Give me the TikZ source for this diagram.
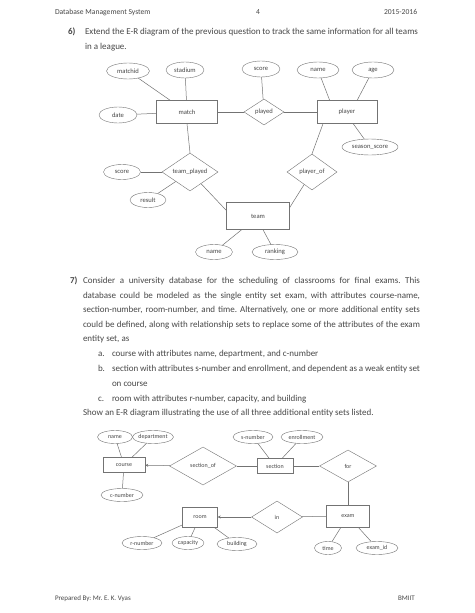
\documentclass[tikz,border=0pt]{standalone}
\usepackage{fontspec}
\setmainfont{Carlito}
\usetikzlibrary{shapes.geometric,arrows.meta}
\frenchspacing
\definecolor{tc}{gray}{0.28}
\definecolor{lc}{gray}{0.45}
\newcommand{\myPf}{\fontsize{9}{10}\selectfont}
\newcommand{\myDfa}{\fontsize{6.6}{7}\selectfont}
\newcommand{\myDfb}{\fontsize{6}{7}\selectfont}
\newcommand{\zw}[1]{\makebox[0pt]{#1}}
\tikzset{
  pt/.style={anchor=base west, inner sep=0pt, outer sep=0pt, font=\myPf, text=tc},
  ent/.style={draw=lc, rectangle, inner sep=0pt, text=tc},
  attr/.style={draw=lc, ellipse, inner sep=0pt, text=tc},
  rel/.style={draw=lc, diamond, inner sep=0pt, text=tc},
  ln/.style={draw=lc, line width=0.5pt},
  arr/.style={draw=lc, line width=0.5pt, -{Stealth[length=3pt,width=3pt]}},
  dA/.style={font=\myDfa},
  dB/.style={font=\myDfb}
}
\begin{document}
\begin{tikzpicture}[x=1pt,y=-1pt]
\useasboundingbox[fill=white] (0,0) rectangle (474,613);

% header
\node[pt, font=\fontsize{7.6}{9}\selectfont] (h1) at (55,14.5) {Database Management System};
\node[pt, font=\fontsize{7.6}{9}\selectfont] (h2) at (256,14.5) {4};
\node[pt, font=\fontsize{7.6}{9}\selectfont] (h3) at (384,14.5) {2015-2016};

% question 6
\node[pt] (q6n) at (68,34.5) {\textbf{6)}};
\node[pt] (q6a) at (85,34.5) {\makebox[333pt][s]{Extend the E-R diagram of the previous question to track the same information for all teams}};
\node[pt] (q6b) at (85,49.5) {in a league.};

% diagram 1
\begin{scope}[every node/.append style={dA}]
\node[ent, minimum width=61pt, minimum height=23pt] (match) at (187,112) {\zw{match}};
\node[rel, minimum width=40pt, minimum height=26pt] (played) at (264,112) {\zw{played}};
\node[ent, minimum width=60pt, minimum height=23pt] (player) at (347,112) {\zw{player}};
\node[attr, minimum width=43pt, minimum height=16pt] (matchid) at (128,71) {\zw{matchid}};
\node[attr, minimum width=38pt, minimum height=16pt] (stadium) at (185,70) {\zw{stadium}};
\node[attr, minimum width=38pt, minimum height=16pt] (date) at (118,115) {\zw{date}};
\node[attr, minimum width=38pt, minimum height=16pt] (score) at (261,69) {\zw{score}};
\node[attr, minimum width=42pt, minimum height=16pt] (pname) at (318,70) {\zw{name}};
\node[attr, minimum width=42pt, minimum height=16pt] (age) at (373,70) {\zw{age}};
\node[attr, minimum width=56pt, minimum height=16pt] (season) at (370,147) {\zw{season\_score}};
\node[rel, minimum width=56pt, minimum height=38pt] (tp) at (190,172) {\zw{team\_played}};
\node[rel, minimum width=50pt, minimum height=36pt] (po) at (312,172) {\zw{player\_of}};
\node[attr, minimum width=37pt, minimum height=15pt] (tscore) at (122,172) {\zw{score}};
\node[attr, minimum width=36pt, minimum height=15pt] (result) at (148,200) {\zw{result}};
\node[ent, minimum width=63pt, minimum height=27pt] (team) at (258,216) {\zw{team}};
\node[attr, minimum width=37pt, minimum height=15pt] (tname) at (214,252) {\zw{name}};
\node[attr, minimum width=46pt, minimum height=15pt] (ranking) at (275,252) {\zw{ranking}};
\end{scope}
\draw[ln] (matchid) -- (match);
\draw[ln] (stadium) -- (match);
\draw[ln] (date) -- (match);
\draw[ln] (match) -- (played);
\draw[ln] (played) -- (player);
\draw[ln] (score) -- (played);
\draw[ln] (pname) -- (player.146);
\draw[ln] (age) -- (player.49);
\draw[ln] (player.-62) -- (season);
\draw[ln] (player.206) -- (po.north);
\draw[ln] (match.south) -- (tp.north);
\draw[ln] (tscore) -- (tp);
\draw[ln] (result) -- (tp);
\draw[ln] (tp) -- (team.170);
\draw[ln] (po) -- (team.15);
\draw[ln] (team.-140) -- (tname);
\draw[ln] (team.-70) -- (ranking);

% question 7
\node[pt] (q7n) at (70,283.5) {\textbf{7)}};
\node[pt] (q7a) at (83,283.5) {\makebox[337pt][s]{Consider a university database for the scheduling of classrooms for final exams. This}};
\node[pt] (q7b) at (83,298) {\makebox[337pt][s]{database could be modeled as the single entity set exam, with attributes course-name,}};
\node[pt] (q7c) at (83,312.5) {\makebox[337pt][s]{section-number, room-number, and time. Alternatively, one or more additional entity sets}};
\node[pt] (q7d) at (83,327) {\makebox[337pt][s]{could be defined, along with relationship sets to replace some of the attributes of the exam}};
\node[pt] (q7e) at (83,341.5) {entity set, as};
\node[pt] (la) at (98,356.5) {a.};
\node[pt] (ta) at (112,356.5) {course with attributes name, department, and c-number};
\node[pt] (lb) at (98,371.5) {b.};
\node[pt] (tb) at (112,371.5) {\makebox[308pt][s]{section with attributes s-number and enrollment, and dependent as a weak entity set}};
\node[pt] (tb2) at (112,386.5) {on course};
\node[pt] (lc) at (98,401.5) {c.};
\node[pt] (tc) at (112,401.5) {room with attributes r-number, capacity, and building};
\node[pt] (q7f) at (83,415.5) {Show an E-R diagram illustrating the use of all three additional entity sets listed.};

% diagram 2
\begin{scope}[every node/.append style={dB}]
\node[ent, minimum width=42pt, minimum height=15pt] (course) at (124,465) {\zw{course}};
\node[attr, minimum width=35pt, minimum height=13pt] (cname) at (115,437) {\zw{name}};
\node[attr, minimum width=41pt, minimum height=13pt] (dept) at (153,437) {\zw{department}};
\node[attr, minimum width=42pt, minimum height=13pt] (cnum) at (122,495) {\zw{c-number}};
\node[rel, minimum width=67pt, minimum height=38pt] (secof) at (203,466) {\zw{section\_of}};
\node[ent, minimum width=36pt, minimum height=15pt] (section) at (275,466) {\zw{section}};
\node[attr, minimum width=40pt, minimum height=13pt] (snum) at (253,437) {\zw{s-number}};
\node[attr, minimum width=42pt, minimum height=13pt] (enroll) at (302,437) {\zw{enrollment}};
\node[rel, minimum width=57pt, minimum height=32pt] (for) at (348,466) {\zw{for}};
\node[ent, minimum width=43pt, minimum height=22pt] (exam) at (348,516) {\zw{exam}};
\node[rel, minimum width=51pt, minimum height=32pt] (in) at (277,517) {\zw{in}};
\node[ent, minimum width=35pt, minimum height=20pt] (room) at (200,517) {\zw{room}};
\node[attr, minimum width=40pt, minimum height=13pt] (rnum) at (142,543) {\zw{r-number}};
\node[attr, minimum width=32pt, minimum height=13pt] (cap) at (188,543) {\zw{capacity}};
\node[attr, minimum width=40pt, minimum height=13pt] (bld) at (237,544) {\zw{building}};
\node[attr, minimum width=27pt, minimum height=13pt] (time) at (328,548) {\zw{time}};
\node[attr, minimum width=42pt, minimum height=13pt] (examid) at (377,548) {\zw{exam\_id}};
\end{scope}
\draw[ln] (cname) -- (course);
\draw[ln] (dept) -- (course);
\draw[ln] (cnum) -- (course);
\draw[arr] (secof) -- (course);
\draw[ln] (secof) -- (section);
\draw[ln] (snum) -- (section);
\draw[ln] (enroll) -- (section);
\draw[ln] (section) -- (for);
\draw[ln] (for) -- (exam);
\draw[ln] (exam) -- (in);
\draw[arr] (in) -- (room);
\draw[ln] (room) -- (rnum);
\draw[ln] (room) -- (cap);
\draw[ln] (room) -- (bld);
\draw[ln] (exam) -- (time);
\draw[ln] (exam) -- (examid);

% footer
\node[pt, font=\fontsize{7}{8}\selectfont] (f1) at (55,600) {Prepared By: Mr. E. K. Vyas};
\node[pt, font=\fontsize{7}{8}\selectfont] (f2) at (398,600) {BMIIT};
\end{tikzpicture}
\end{document}
